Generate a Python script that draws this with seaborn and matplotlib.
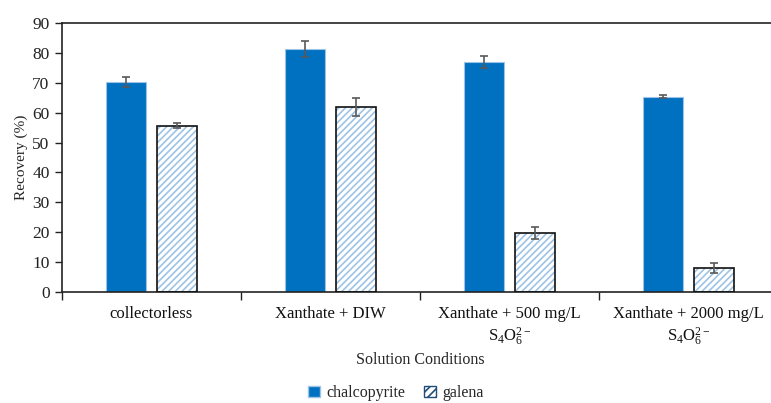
import matplotlib
matplotlib.use("Agg")
import matplotlib.pyplot as plt
import seaborn as sns
import pandas as pd
import numpy as np
from matplotlib.patches import Patch, Rectangle

categories = ["collectorless", "Xanthate + DIW",
              "Xanthate + 500 mg/L\nS$_4$O$_6^{2\u2212}$",
              "Xanthate + 2000 mg/L\nS$_4$O$_6^{2\u2212}$"]
minerals = ["chalcopyrite", "galena"]
chalcopyrite = [70.3, 81.3, 76.8, 65.4]
chalcopyrite_err = [1.8, 2.6, 2.0, 0.5]
galena = [55.7, 61.9, 19.7, 7.9]
galena_err = [0.7, 3.1, 2.0, 1.7]

df = pd.DataFrame({
    "Condition": categories * 2,
    "Mineral": [minerals[0]] * 4 + [minerals[1]] * 4,
    "Recovery": chalcopyrite + galena,
})

sns.set_style("white")
plt.rcParams["font.family"] = ["Liberation Serif", "DejaVu Serif"]
plt.rcParams["mathtext.fontset"] = "custom"
plt.rcParams["mathtext.rm"] = "Liberation Serif"
plt.rcParams["mathtext.it"] = "Liberation Serif:italic"
plt.rcParams["hatch.linewidth"] = 1.2

dark_blue = "#0070C0"
light_blue = "#9DC3E6"

fig = plt.figure(figsize=(7.71, 4.03), dpi=100)
ax = fig.add_axes([62 / 771, 1 - 292 / 403, 716 / 771, 269 / 403])

sns.barplot(data=df, x="Condition", y="Recovery", hue="Mineral",
            order=categories, hue_order=minerals,
            palette=[dark_blue, "white"], width=0.57, gap=0.23,
            legend=False, ax=ax, saturation=1)

bars = ax.patches[:]
n = len(categories)
chal_bars = bars[:n]
gal_bars = bars[n:2 * n]
for b in chal_bars:
    b.set_edgecolor(light_blue)
    b.set_linewidth(0.8)
for b in gal_bars:
    b.set_facecolor("white")
    b.set_edgecolor(light_blue)
    b.set_hatch("/////")
    b.set_linewidth(0)
    ax.add_patch(Rectangle((b.get_x(), b.get_y()), b.get_width(), b.get_height(),
                           fill=False, edgecolor="#111111", linewidth=1.2, zorder=3))

for group, vals, errs in [(chal_bars, chalcopyrite, chalcopyrite_err),
                          (gal_bars, galena, galena_err)]:
    xs = [b.get_x() + b.get_width() / 2 for b in group]
    ax.errorbar(xs, vals, yerr=errs, fmt="none", ecolor="#595959",
                elinewidth=1.2, capsize=3, capthick=1.2, zorder=4)

ax.set_ylim(0, 90)
ax.set_xlim(-0.5, n - 0.5)
ax.set_yticks(np.arange(0, 91, 10))
ax.tick_params(axis="y", labelsize=12.5, length=5, width=1, direction="out",
               left=True, colors="#222222", pad=4)
ax.tick_params(axis="x", which="major", length=0, labelsize=12, pad=10,
               colors="#111111")
ax.set_xticks(np.arange(-0.5, n, 1.0), minor=True)
ax.tick_params(axis="x", which="minor", length=6, width=1, bottom=True,
               direction="out", color="#222222")
for lab in ax.get_xticklabels():
    lab.set_linespacing(1.25)

for s in ["left", "bottom", "top", "right"]:
    ax.spines[s].set_visible(True)
    ax.spines[s].set_color("#222222")
    ax.spines[s].set_linewidth(1.2)

ax.set_ylabel("Recovery (%)", fontsize=11, labelpad=3)
ax.set_xlabel("Solution Conditions", fontsize=11.5, labelpad=3)

handles = [Patch(facecolor=dark_blue, edgecolor=light_blue, label="chalcopyrite"),
           Patch(facecolor="white", edgecolor="#1F4E79", hatch="////", label="galena")]
fig.legend(handles=handles, loc="center", bbox_to_anchor=(396 / 771, 1 - 393 / 403),
           ncol=2, frameon=False, fontsize=11.5, handlelength=0.75, handleheight=0.75,
           handletextpad=0.4, columnspacing=1.2, borderpad=0)

fig.savefig("out.png", dpi=100)
